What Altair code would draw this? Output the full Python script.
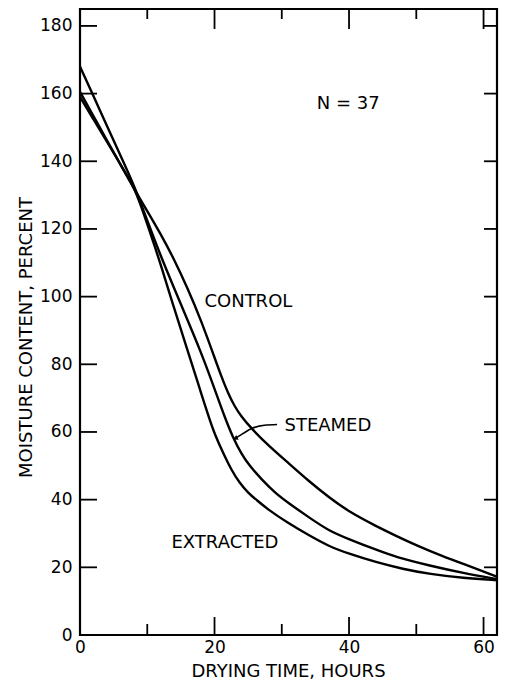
import altair as alt
import pandas as pd

# ---- curve data ----
hours_control = [0, 2, 4, 6, 8, 10, 12, 14, 16, 18, 20, 21, 22, 23, 24, 25.5, 28, 31, 34, 37, 40, 44, 47, 50, 54, 57, 60, 62]
mc_control = [160.5, 153.4, 146.2, 139.1, 132, 125.3, 118.5, 111, 102.5, 93, 82, 76.5, 71.5, 67.5, 64.5, 61, 56, 50.8, 45.5, 40.7, 36.4, 32.2, 29.3, 26.5, 23.2, 21.0, 18.8, 17.2]

hours_steamed = [0, 2, 4, 6, 8, 9, 10, 12, 14, 16, 18, 19.5, 20.5, 21.5, 22.7, 24, 25.2, 27, 29, 31, 34, 37, 40, 44, 47, 52, 57, 62]
mc_steamed = [168, 159.3, 150.5, 141.8, 133, 127.8, 122.5, 112, 102.5, 93, 83.5, 75.5, 70, 64.5, 58.5, 53.5, 50, 46, 42, 39, 34.8, 30.8, 28.3, 25.2, 23.0, 20.5, 18.3, 16.5]

hours_extracted = [0, 2, 4, 6, 8, 9, 10, 11, 12, 14, 16, 17.3, 18, 19.3, 20, 21.3, 22.5, 23.7, 25, 26.2, 28, 31, 34, 37, 40, 44, 48, 52, 57, 62]
mc_extracted = [159, 152.4, 145.8, 139.1, 132.5, 127.2, 121.5, 115.5, 109.5, 96.5, 84, 76, 71.5, 63.5, 59.5, 53.7, 48.8, 45, 42, 40, 37, 33, 29.5, 26.2, 24, 21.5, 19.5, 18, 16.8, 16.2]

# ---- axis values ----
y_label_values = [0, 20, 40, 60, 80, 100, 120, 140, 160, 180]
x_label_values = [0, 20, 40, 60]
side_ticks = [20, 40, 60, 80, 100, 120, 140, 160, 180]
x_major_ticks = [20, 40, 60]
x_minor_ticks = [10, 30, 50]

# ---- annotations ----
label_text = ["N = 37", "CONTROL", "STEAMED", "EXTRACTED"]
label_x = [35.2, 18.5, 30.4, 13.6]
label_y = [157, 98.4, 61.8, 27.2]

leader_x = [29.3, 27.4, 25.5, 24.2, 23.1]
leader_y = [62.2, 62.0, 61.0, 59.5, 58.1]
arrow_x = [23.2]
arrow_y = [58.2]

FONT = "DejaVu Sans"
W, H = 417, 626
xs = alt.Scale(domain=[0, 62], nice=False, zero=False)
ys = alt.Scale(domain=[0, 185], nice=False, zero=False)

x_axis = alt.Axis(
    values=x_label_values, title="DRYING TIME, HOURS", domain=False, ticks=False,
    tickSize=0, grid=False, labelFont=FONT, labelFontSize=17, labelColor="black",
    labelPadding=4, labelFlush=False, titleFont=FONT, titleFontSize=18,
    titleFontWeight="normal", titleColor="black", titleX=208, titleY=36,
    titleBaseline="middle", titleAlign="center")
y_axis = alt.Axis(
    values=y_label_values, title="MOISTURE CONTENT, PERCENT", domain=False, ticks=False,
    tickSize=0, grid=False, labelFont=FONT, labelFontSize=17, labelColor="black",
    labelPadding=8, labelFlush=False, titleFont=FONT, titleFontSize=18,
    titleFontWeight="normal", titleColor="black", titleX=-54, titleY=328,
    titleAngle=270, titleBaseline="middle", titleAlign="center")


def X(field):
    return alt.X(field, type="quantitative", scale=xs, axis=x_axis)


def Y(field):
    return alt.Y(field, type="quantitative", scale=ys, axis=y_axis)


rows = []
for name, hx, my in (("Control", hours_control, mc_control),
                     ("Steamed", hours_steamed, mc_steamed),
                     ("Extracted", hours_extracted, mc_extracted)):
    for a, b in zip(hx, my):
        rows.append({"curve": name, "hours": a, "mc": b})
curves_df = pd.DataFrame(rows)

curves = alt.Chart(curves_df).mark_line(
    color="black", strokeWidth=2.4, interpolate="basis"
).encode(x=X("hours"), y=Y("mc"), detail="curve:N")


def tick_df(vals):
    return pd.DataFrame({"v": vals})


rule = dict(color="black", strokeWidth=1.8)
left_ticks = alt.Chart(tick_df(side_ticks)).mark_rule(**rule).encode(
    y=Y("v"), x=alt.value(0), x2=alt.value(17))
right_ticks = alt.Chart(tick_df(side_ticks)).mark_rule(**rule).encode(
    y=Y("v"), x=alt.value(W), x2=alt.value(W - 13))
bottom_major = alt.Chart(tick_df(x_major_ticks)).mark_rule(**rule).encode(
    x=X("v"), y=alt.value(H), y2=alt.value(H - 18))
bottom_minor = alt.Chart(tick_df(x_minor_ticks)).mark_rule(**rule).encode(
    x=X("v"), y=alt.value(H), y2=alt.value(H - 11))
top_major = alt.Chart(tick_df(x_major_ticks)).mark_rule(**rule).encode(
    x=X("v"), y=alt.value(0), y2=alt.value(20))
top_minor = alt.Chart(tick_df(x_minor_ticks)).mark_rule(**rule).encode(
    x=X("v"), y=alt.value(0), y2=alt.value(10))

labels = alt.Chart(pd.DataFrame({"x": label_x, "y": label_y, "t": label_text})).mark_text(
    align="left", baseline="middle", font=FONT, fontSize=18, color="black"
).encode(x=X("x"), y=Y("y"), text="t:N")

leader = alt.Chart(pd.DataFrame({"x": leader_x, "y": leader_y})).mark_line(
    color="black", strokeWidth=1.6, interpolate="monotone"
).encode(x=X("x"), y=Y("y"))

arrow = alt.Chart(pd.DataFrame({"x": arrow_x, "y": arrow_y})).mark_point(
    shape="triangle", filled=True, size=30, angle=244, color="black", opacity=1
).encode(x=X("x"), y=Y("y"))

chart = alt.layer(
    curves, left_ticks, right_ticks, bottom_major, bottom_minor, top_major, top_minor,
    labels, leader, arrow
).properties(
    width=W, height=H,
    padding={"left": 72, "top": 1, "right": 5, "bottom": 46},
    autosize=alt.AutoSizeParams(type="none"),
    background="white",
).configure_view(
    stroke="black", strokeWidth=2.2
)

chart.save("out.html", embed_options={"renderer": "svg", "actions": False})
